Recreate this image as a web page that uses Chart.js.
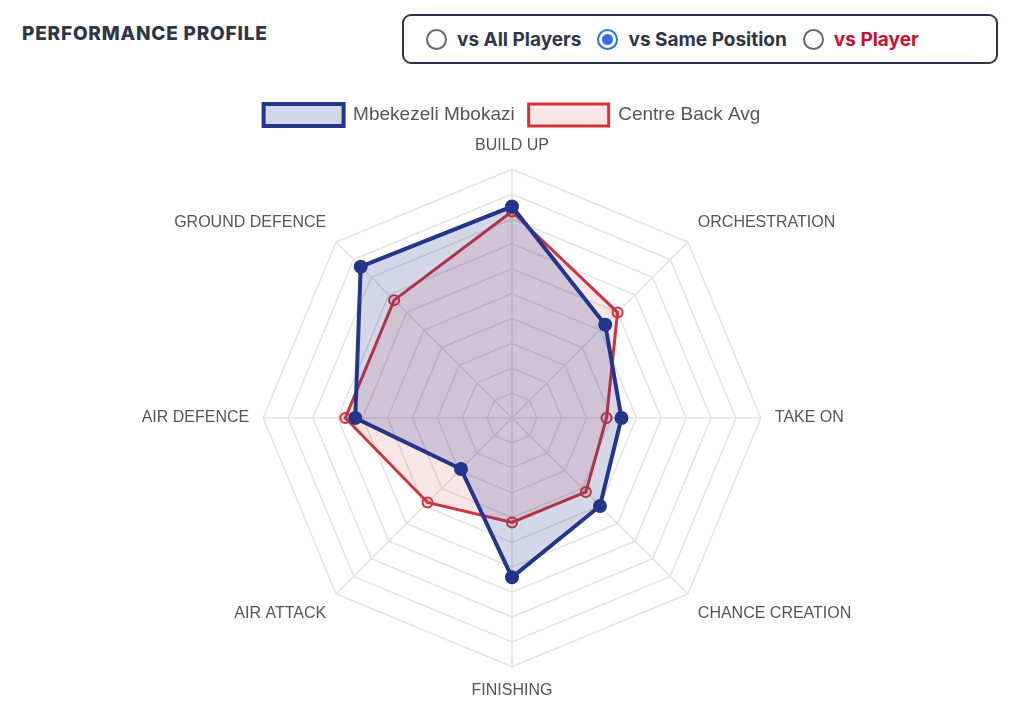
<!DOCTYPE html>
<html>
<head>
<meta charset="utf-8">
<script src="https://cdn.jsdelivr.net/npm/chart.js@4"></script>
<style>
  body { margin: 0; background: #fff; font-family: Inter, "Open Sans", sans-serif; }
  .wrap { position: relative; width: 1024px; height: 711px; }
  .title { position: absolute; left: 22px; top: 22px; font-size: 19px; font-weight: 800; color: #2e3648; letter-spacing: 0.8px; }
  .toggle { position: absolute; left: 402px; top: 14px; width: 596px; height: 50px; box-sizing: border-box;
    border: 2px solid #2e3648; border-radius: 9px; display: flex; align-items: center; padding-left: 22px;
    font-size: 19px; font-weight: 700; color: #2e3648; }
  .opt { display: flex; align-items: center; margin-right: 16px; }
  .dot { width: 21px; height: 21px; border: 2px solid #666; border-radius: 50%; box-sizing: border-box; margin-right: 10px; position: relative; }
  .dot.on { border-color: #2f6fe4; }
  .dot.on::after { content: ""; position: absolute; left: 3px; top: 3px; width: 11px; height: 11px; border-radius: 50%; background: #2f6fe4; }
  .red { color: #c8102e; }
  #box { position: absolute; left: 0; top: 90px; width: 1024px; height: 621px; }
</style>
</head>
<body>
<div class="wrap">
  <div class="title">PERFORMANCE PROFILE</div>
  <div class="toggle">
    <div class="opt"><span class="dot"></span>vs All Players</div>
    <div class="opt"><span class="dot on"></span>vs Same Position</div>
    <div class="opt"><span class="dot"></span><span class="red">vs Player</span></div>
  </div>
  <div id="box"><canvas id="radar"></canvas></div>
</div>
<script>
const categories = ['BUILD UP', 'ORCHESTRATION', 'TAKE ON', 'CHANCE CREATION', 'FINISHING', 'AIR ATTACK', 'AIR DEFENCE', 'GROUND DEFENCE'];
const playerValues = [85, 53, 44, 50, 64, 29, 63, 86];
const positionAvg = [83, 60, 38, 42, 42, 48, 67, 67];

new Chart(document.getElementById('radar'), {
  type: 'radar',
  data: {
    labels: categories,
    datasets: [{
      label: 'Mbekezeli Mbokazi',
      data: playerValues,
      borderColor: '#22368c',
      backgroundColor: 'rgba(34,54,140,0.2)',
      borderWidth: 4,
      pointRadius: 5,
      pointBackgroundColor: '#22368c',
      pointBorderColor: '#22368c'
    }, {
      label: 'Centre Back Avg',
      data: positionAvg,
      borderColor: '#d0343a',
      backgroundColor: 'rgba(208,52,58,0.12)',
      borderWidth: 3,
      pointRadius: 5,
      pointBorderWidth: 2,
      pointBackgroundColor: 'rgba(208,52,58,0.15)',
      pointBorderColor: '#d0343a'
    }]
  },
  options: {
    responsive: true,
    maintainAspectRatio: false,
    animation: false,
    layout: { padding: { bottom: 10 } },
    scales: {
      r: {
        min: 0,
        max: 100,
        ticks: { display: false, stepSize: 10 },
        grid: { color: '#e3e3e3', lineWidth: 1.5 },
        angleLines: { color: '#e3e3e3', lineWidth: 1.5 },
        pointLabels: { color: '#555', font: { size: 16, family: 'Liberation Sans, Arial' }, padding: 14 }
      }
    },
    plugins: {
      legend: {
        labels: { boxWidth: 80, boxHeight: 22, color: '#555', font: { size: 19, family: 'Liberation Sans, Arial' }, padding: 14 }
      },
      tooltip: { enabled: false }
    }
  }
});
</script>
</body>
</html>
